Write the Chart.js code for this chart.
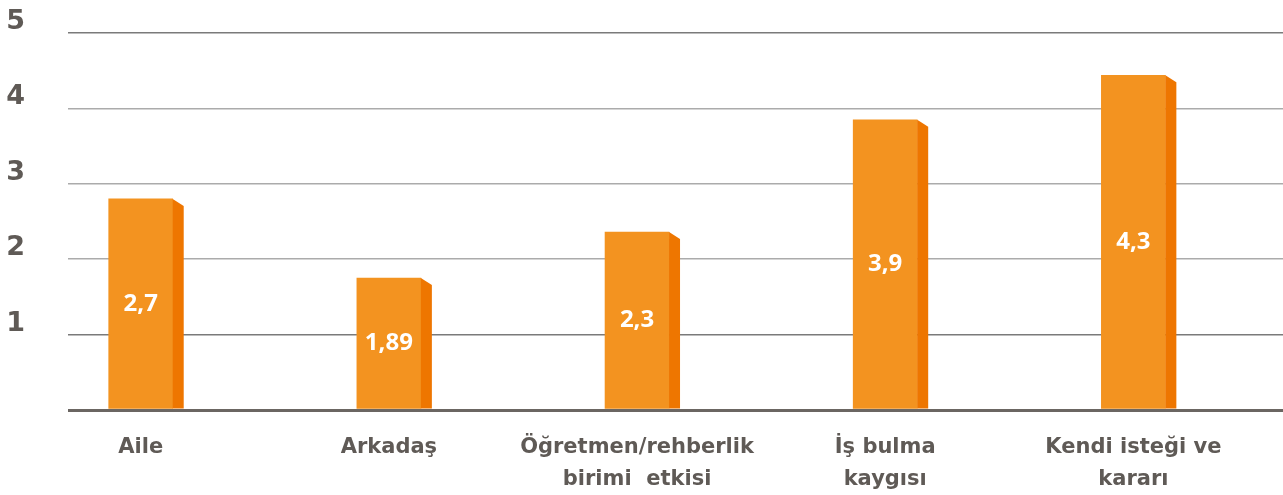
<!DOCTYPE html>
<html>
<head>
<meta charset="utf-8">
<script src="https://cdn.jsdelivr.net/npm/chart.js@4"></script>
<style>
    body { margin: 0; background: #fff; }
    #wrap { width: 1283px; height: 495px; }
</style>
</head>
<body>
<div id="wrap"><canvas id="myChart" width="1283" height="495"></canvas></div>
<script>
// categories (multi line labels) and values
let categories = [
    ['Aile'],
    ['Arkadaş'],
    ['Öğretmen/rehberlik', 'birimi  etkisi'],
    ['İş bulma', 'kaygısı'],
    ['Kendi isteği ve', 'kararı']
];
// bar heights as drawn
let values = [2.8, 1.75, 2.36, 3.85, 4.44];
// the numbers printed on the bars
let valueLabels = ['2,7', '1,89', '2,3', '3,9', '4,3'];
let yTicks = [0, 1, 2, 3, 4, 5];

let frontColor = '#F39320';
let sideColor = '#EE7600';
let textGray = '#5f5a56';

// darker right face + value text on each bar
let barExtras = {
    id: 'barExtras',
    afterDatasetsDraw: function (chart) {
        let ctx = chart.ctx;
        let meta = chart.getDatasetMeta(0);
        meta.data.forEach(function (bar, i) {
            let right = bar.x + bar.width / 2;
            let top = bar.y;
            let bottom = bar.base;
            ctx.save();
            ctx.fillStyle = sideColor;
            ctx.beginPath();
            ctx.moveTo(right, top);
            ctx.lineTo(right + 11, top + 7);
            ctx.lineTo(right + 11, bottom);
            ctx.lineTo(right, bottom);
            ctx.closePath();
            ctx.fill();

            ctx.fillStyle = '#ffffff';
            ctx.font = 'bold 24px "Open Sans"';
            ctx.textAlign = 'center';
            ctx.textBaseline = 'middle';
            ctx.fillText(valueLabels[i], bar.x, (top + bottom) / 2);
            ctx.restore();
        });
    }
};

let ctx = document.getElementById('myChart').getContext('2d');
let myChart = new Chart(ctx, {
    type: 'bar',
    data: {
        datasets: [{
            data: values.map(function (v, i) { return { x: i, y: v }; }),
            backgroundColor: frontColor,
            barThickness: 64,
            borderWidth: 0
        }]
    },
    plugins: [barExtras],
    options: {
        responsive: false,
        animation: false,
        layout: {
            padding: { left: 5, right: 0, top: 33, bottom: 0 }
        },
        plugins: {
            legend: { display: false },
            tooltip: { enabled: false }
        },
        scales: {
            x: {
                type: 'linear',
                min: -0.293,
                max: 4.603,
                offset: false,
                border: { display: false },
                grid: { display: false, drawTicks: false },
                afterBuildTicks: function (axis) {
                    axis.ticks = categories.map(function (c, i) { return { value: i }; });
                },
                afterFit: function (axis) {
                    axis.height = 85;
                    axis.paddingLeft = 0;
                    axis.paddingRight = 0;
                },
                ticks: {
                    autoSkip: false,
                    maxRotation: 0,
                    padding: 22,
                    color: textGray,
                    font: { family: 'DejaVu Sans', size: 21, weight: 'bold', lineHeight: 1.5 },
                    callback: function (value) {
                        return categories[value];
                    }
                }
            },
            y: {
                min: 0,
                max: 5,
                border: { display: false },
                afterBuildTicks: function (axis) {
                    axis.ticks = yTicks.map(function (t) { return { value: t }; });
                },
                afterFit: function (axis) {
                    axis.width = 63;
                    axis.paddingTop = 0;
                    axis.paddingBottom = 0;
                },
                grid: {
                    drawTicks: false,
                    color: function (c) {
                        let v = c.tick.value;
                        if (v === 0) return '#6b6662';
                        if (v === 5 || v === 1) return '#7a7a7a';
                        return '#ababab';
                    },
                    lineWidth: function (c) {
                        return c.tick.value === 0 ? 3 : 1.5;
                    }
                },
                ticks: {
                    padding: 43,
                    labelOffset: -11,
                    color: textGray,
                    font: { family: 'DejaVu Sans', size: 27, weight: 'bold' },
                    callback: function (value) {
                        return value === 0 ? '' : value;
                    }
                }
            }
        }
    }
});
</script>
</body>
</html>
